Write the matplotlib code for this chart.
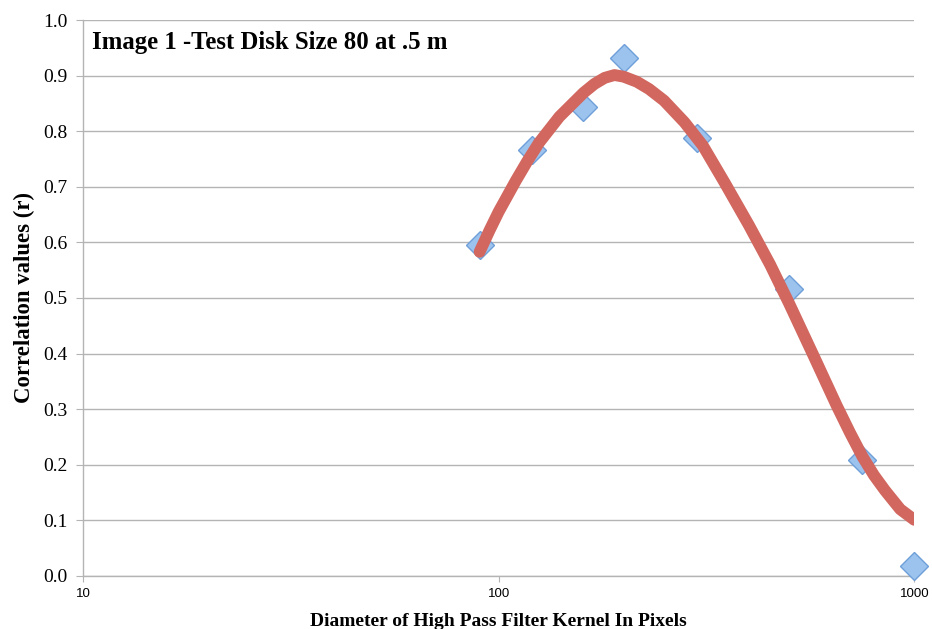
import numpy as np
import matplotlib.pyplot as plt

# kernel diameters (px) and correlation values
diameters = [90, 120, 160, 200, 300, 500, 750, 1000]
correlations = [0.595, 0.766, 0.843, 0.932, 0.788, 0.516, 0.209, 0.018]

# the red trend curve at these diameters
trend_x = [90, 95, 100, 110, 117, 125, 140, 160, 170, 180, 190, 200, 215,
           230, 250, 280, 310, 350, 400, 450, 500, 575, 650, 700, 750, 800,
           850, 925, 1000]
trend_y = [0.583, 0.621, 0.655, 0.711, 0.745, 0.779, 0.826, 0.869, 0.885,
           0.896, 0.901, 0.898, 0.889, 0.876, 0.855, 0.816, 0.774, 0.707,
           0.631, 0.560, 0.490, 0.393, 0.307, 0.258, 0.215, 0.181, 0.154,
           0.120, 0.101]

y_ticks = [0.0, 0.1, 0.2, 0.3, 0.4, 0.5, 0.6, 0.7, 0.8, 0.9, 1.0]
x_ticks = [10, 100, 1000]

serif = ['Liberation Serif', 'DejaVu Serif']
grey = '#b4b4b4'

fig = plt.figure(figsize=(9.32, 6.29), dpi=100)
ax = fig.add_axes([0.089, 0.0843, 0.892, 0.8839])

ax.plot(trend_x, trend_y, color='#d1675f', lw=8.5, solid_capstyle='round',
        solid_joinstyle='round', zorder=4)

ax.plot(diameters, correlations, linestyle='none', marker='D', ms=14.5,
        mfc='#9cc2ee', mec='#6f9fd8', mew=1.0, clip_on=False, zorder=3)

ax.set_xscale('log')
ax.set_xlim(10, 1000)
ax.set_ylim(0, 1.0)
ax.set_xticks(x_ticks)
ax.set_xticklabels([str(t) for t in x_ticks])
ax.xaxis.set_minor_locator(plt.NullLocator())
ax.set_yticks(y_ticks)
ax.set_yticklabels([f'{t:.1f}' for t in y_ticks])

ax.grid(axis='y', color=grey, lw=1.0)
ax.set_axisbelow(True)
for side in ('top', 'right'):
    ax.spines[side].set_visible(False)
for side in ('left', 'bottom'):
    ax.spines[side].set_color(grey)
    ax.spines[side].set_linewidth(1.0)

ax.tick_params(axis='y', length=5, color=grey, labelsize=14, pad=6)
ax.tick_params(axis='x', length=4, color=grey, labelsize=9.5, pad=5)
for lab in ax.get_yticklabels():
    lab.set_family(serif)
for lab in ax.get_xticklabels():
    lab.set_family(['Liberation Sans Narrow', 'Liberation Sans', 'DejaVu Sans'])

ax.set_ylabel('Correlation values (r)', family=serif, fontweight='bold',
              fontsize=16.4, labelpad=6)
ax.set_xlabel('Diameter of High Pass Filter Kernel In Pixels', family=serif,
              fontweight='bold', fontsize=14, labelpad=9)
ax.text(0.011, 0.96, 'Image 1 -Test Disk Size 80 at .5 m', transform=ax.transAxes,
        family=serif, fontweight='bold', fontsize=17.8, va='center', ha='left')

fig.savefig('out.png', dpi=100)
